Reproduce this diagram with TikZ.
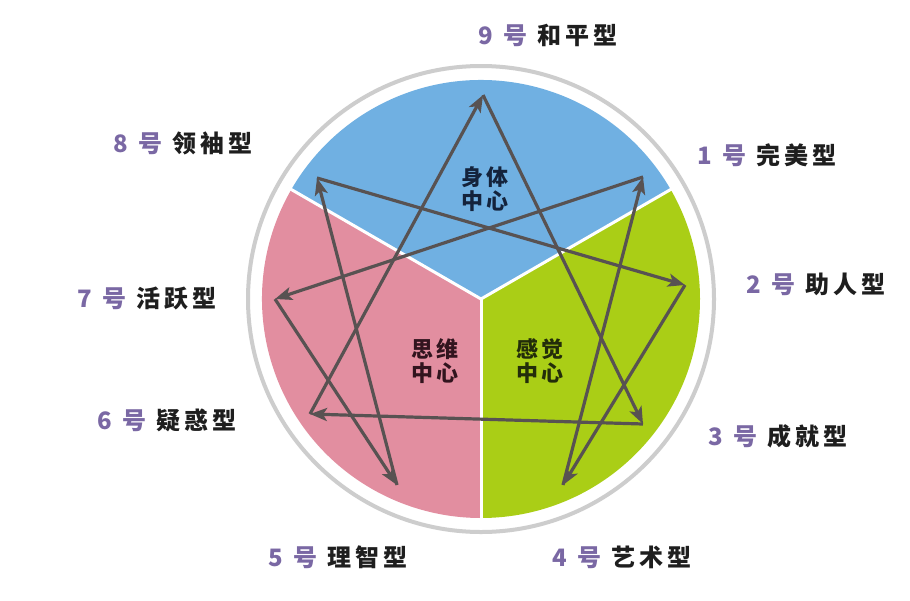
\documentclass[tikz,border=0pt]{standalone}
\usepackage{fontspec}
\usetikzlibrary{arrows.meta}
\newfontfamily\cjk{Noto Sans CJK SC}[LetterSpace=17]
\newfontfamily\cjkc{Noto Sans CJK SC}[LetterSpace=10]
\definecolor{secblue}{RGB}{112,176,226}
\definecolor{secpink}{RGB}{226,142,160}
\definecolor{secgreen}{RGB}{170,206,22}
\definecolor{ringgray}{RGB}{205,205,205}
\definecolor{arrowc}{RGB}{88,82,82}
\definecolor{numc}{RGB}{122,104,164}
\definecolor{txtc}{RGB}{30,30,30}
\begin{document}
\begin{tikzpicture}[x=1pt,y=-1pt,
  arr/.style={draw=arrowc,line width=3.2pt,-{Stealth[length=17pt,width=13pt,inset=4pt]}},
  lbl/.style={anchor=west,inner sep=0pt,text=txtc,font=\cjk\bfseries\fontsize{24}{26}\selectfont},
  ctr/.style={align=center,inner sep=0pt,font=\cjkc\bfseries\fontsize{22}{24}\selectfont},
  sep/.style={draw=white,line width=3pt}]
\useasboundingbox (0,0) rectangle (910,600);
\fill[white] (0,0) rectangle (910,600);
\coordinate (c) at (481,299);
% ring and sectors
\draw[ringgray,line width=4pt] (c) circle[radius=233];
\fill[secblue] (c) -- ++(-30:219) arc[start angle=-30,end angle=-150,radius=219] -- cycle;
\fill[secpink] (c) -- ++(-150:219) arc[start angle=-150,end angle=-270,radius=219] -- cycle;
\fill[secgreen] (c) -- ++(90:219) arc[start angle=90,end angle=-30,radius=219] -- cycle;
\draw[sep] (c) -- ++(-30:222);
\draw[sep] (c) -- ++(-150:222);
\draw[sep] (c) -- ++(90:222);
% centre texts
\node[ctr,text={rgb,255:red,20;green,35;blue,60}] (body) at (485,189) {身体\\中心};
\node[ctr,text={rgb,255:red,50;green,20;blue,30}] (think) at (435,361) {思维\\中心};
\node[ctr,text={rgb,255:red,35;green,45;blue,10}] (feel) at (540,361) {感觉\\中心};
% points
\coordinate (p9) at (483,95);
\coordinate (p1) at (643,177);
\coordinate (p2) at (685,285);
\coordinate (p3) at (643,424);
\coordinate (p4) at (563,485);
\coordinate (p5) at (397,485);
\coordinate (p6) at (310,414);
\coordinate (p7) at (275,299);
\coordinate (p8) at (317,178);
% arrows
\draw[arr] (p1) -- (p7);
\draw[arr] (p7) -- (p5);
\draw[arr] (p5) -- (p8);
\draw[arr] (p8) -- (p2);
\draw[arr] (p2) -- (p4);
\draw[arr] (p4) -- (p1);
\draw[arr] (p3) -- (p6);
\draw[arr] (p6) -- (p9);
\draw[arr] (p9) -- (p3);
% labels
\newcommand{\lab}[2]{{\color{numc}#1\hspace{11pt}号}\hspace{10pt}#2}
\node[lbl] (l9) at (478,35) {\lab{9}{和平型}};
\node[lbl] (l1) at (697,155) {\lab{1}{完美型}};
\node[lbl] (l2) at (746,284) {\lab{2}{助人型}};
\node[lbl] (l3) at (708,436) {\lab{3}{成就型}};
\node[lbl] (l4) at (552,557) {\lab{4}{艺术型}};
\node[lbl] (l5) at (268,557) {\lab{5}{理智型}};
\node[lbl] (l6) at (97,420) {\lab{6}{疑惑型}};
\node[lbl] (l7) at (77,298) {\lab{7}{活跃型}};
\node[lbl] (l8) at (113,143) {\lab{8}{领袖型}};
\end{tikzpicture}
\end{document}
